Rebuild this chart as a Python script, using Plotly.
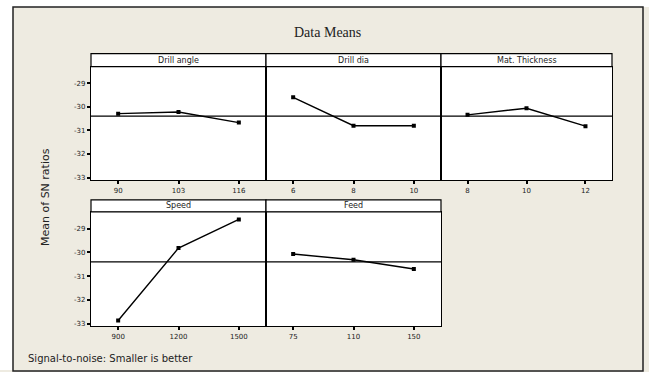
import numpy as np
import plotly.graph_objects as go

# ---- data ----
factors = ["Drill angle", "Drill dia", "Mat. Thickness", "Speed", "Feed"]
drill_angle_levels = ["90", "103", "116"]
drill_angle_sn = [-30.29, -30.22, -30.67]
drill_dia_levels = ["6", "8", "10"]
drill_dia_sn = [-29.60, -30.80, -30.80]
thickness_levels = ["8", "10", "12"]
thickness_sn = [-30.34, -30.06, -30.82]
speed_levels = ["900", "1200", "1500"]
speed_sn = [-32.86, -29.82, -28.62]
feed_levels = ["75", "110", "150"]
feed_sn = [-30.07, -30.31, -30.70]
y_ticks = [-29, -30, -31, -32, -33]

levels = [drill_angle_levels, drill_dia_levels, thickness_levels, speed_levels, feed_levels]
values = [drill_angle_sn, drill_dia_sn, thickness_sn, speed_sn, feed_sn]
grand_mean = float(np.mean(np.concatenate([np.array(v) for v in values])))

W, H = 649, 372
def px(x): return x / W
def py(y): return 1 - y / H

cols = [(91, 266), (266, 441), (441, 612)]
rows = [(67, 181, 54), (213, 328, 201)]
cells = [(0, 0), (0, 1), (0, 2), (1, 0), (1, 1)]

fig = go.Figure()
layout = dict(
    width=W, height=H, margin=dict(l=0, r=0, t=0, b=0),
    paper_bgcolor="#EEEBE1", plot_bgcolor="white", showlegend=False,
)
shapes = [
    dict(type="rect", xref="paper", yref="paper", x0=0, x1=1, y0=py(7), y1=1,
         fillcolor="white", line=dict(width=0), layer="below"),
    dict(type="rect", xref="paper", yref="paper", x0=0, x1=px(13), y0=0, y1=1,
         fillcolor="white", line=dict(width=0), layer="below"),
    dict(type="rect", xref="paper", yref="paper", x0=px(13), x1=px(643), y0=py(373), y1=py(7),
         fillcolor="rgba(0,0,0,0)", line=dict(color="#222", width=1.5), layer="above"),
]
annotations = []
tickfont = dict(family="DejaVu Sans", size=7, color="#222")

for i, (name, lev, val) in enumerate(zip(factors, levels, values)):
    r, c = cells[i]
    x0, x1 = cols[c]
    ytop, ybot, stop = rows[r]
    k = "" if i == 0 else str(i + 1)
    fig.add_trace(go.Scatter(
        x=lev, y=val, xaxis="x" + k, yaxis="y" + k, mode="lines+markers",
        line=dict(color="black", width=1.4),
        marker=dict(symbol="square", size=4, color="black"),
    ))
    layout["xaxis" + k] = dict(
        domain=[px(x0), px(x1)], anchor="y" + k, type="category", range=[-0.45, 2.45],
        showline=True, mirror=True, linecolor="black", linewidth=1.2,
        ticks="outside", ticklen=3, tickcolor="black", tickwidth=1.5,
        tickfont=tickfont, showgrid=False, zeroline=False, fixedrange=True,
    )
    layout["yaxis" + k] = dict(
        domain=[py(ybot), py(ytop)], anchor="x" + k, range=[-33.1, -28.3],
        tickvals=y_ticks, ticktext=[str(t) for t in y_ticks],
        showline=True, mirror=True, linecolor="black", linewidth=1.2,
        ticks="outside" if c == 0 else "", ticklen=3, tickcolor="black", tickwidth=1.5,
        showticklabels=(c == 0), tickfont=tickfont,
        showgrid=False, zeroline=False, fixedrange=True,
    )
    shapes.append(dict(type="line", xref="x" + k + " domain", yref="y" + k,
                       x0=0, x1=1, y0=grand_mean, y1=grand_mean,
                       line=dict(color="black", width=1.2)))
    shapes.append(dict(type="rect", xref="paper", yref="paper",
                       x0=px(x0), x1=px(x1), y0=py(ytop), y1=py(stop),
                       fillcolor="white", line=dict(color="black", width=1.2)))
    annotations.append(dict(text=name, xref="paper", yref="paper",
                            x=(px(x0) + px(x1)) / 2, y=(py(ytop) + py(stop)) / 2,
                            showarrow=False, font=dict(family="DejaVu Sans", size=8, color="#222"),
                            xanchor="center", yanchor="middle"))

annotations.append(dict(text="Data Means", xref="paper", yref="paper", x=px(327), y=py(33),
                        showarrow=False, font=dict(family="Liberation Serif", size=14, color="#222"),
                        xanchor="center", yanchor="middle"))
annotations.append(dict(text="Mean of SN ratios", xref="paper", yref="paper", x=px(46), y=py(198),
                        textangle=-90, showarrow=False,
                        font=dict(family="DejaVu Sans", size=11, color="#222"),
                        xanchor="center", yanchor="middle"))
annotations.append(dict(text="Signal-to-noise: Smaller is better", xref="paper", yref="paper",
                        x=px(26), y=py(360), showarrow=False,
                        font=dict(family="DejaVu Sans", size=10, color="#222"),
                        xanchor="left", yanchor="middle"))

layout["shapes"] = shapes
layout["annotations"] = annotations
fig.update_layout(**layout)
fig.write_html("out.html")
